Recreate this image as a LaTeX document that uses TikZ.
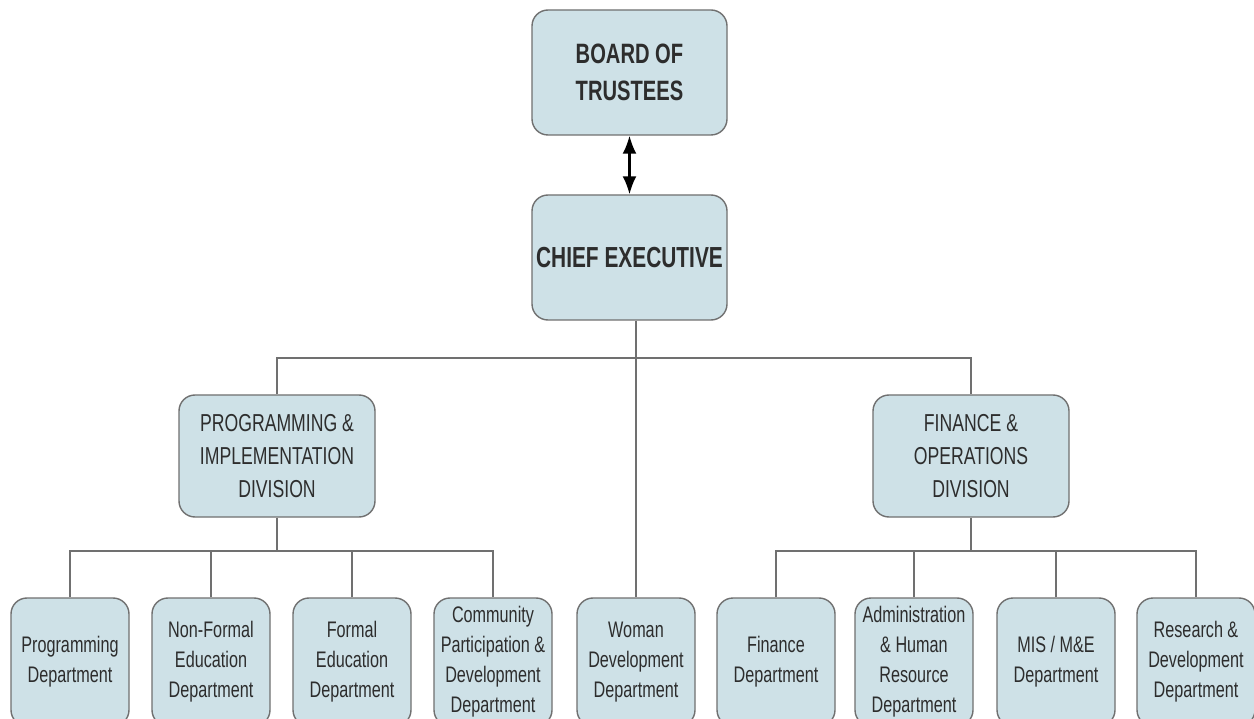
\documentclass[tikz,border=0pt]{standalone}
\usepackage{fontspec}
\setmainfont{Liberation Sans}[FakeStretch=0.72]
\usetikzlibrary{arrows.meta}
\definecolor{boxfill}{RGB}{206,225,231}
\definecolor{boxline}{RGB}{112,112,112}
\definecolor{txt}{RGB}{45,45,45}
\begin{document}
\begin{tikzpicture}[x=1pt,y=-1pt,
  box/.style={draw=boxline, line width=1.4pt, fill=boxfill, rounded corners=16pt, align=center, text=txt, inner sep=0pt},
  topbox/.style={box, minimum width=195pt, minimum height=125pt, font=\fontsize{28}{37}\selectfont\bfseries},
  divbox/.style={box, minimum width=196pt, minimum height=122pt, font=\fontsize{24.5}{33}\selectfont},
  deptbox/.style={box, minimum width=118pt, minimum height=128pt, font=\fontsize{22.5}{30}\selectfont},
  link/.style={draw=boxline, line width=1.4pt}]
\useasboundingbox (0,0) rectangle (1254,719);
\clip (0,0) rectangle (1254,719);
\fill[white] (0,0) rectangle (1254,719);

\node[topbox] (bot) at (629.5,72.5) {BOARD OF\\TRUSTEES};
\node[topbox, font=\fontsize{29}{37}\selectfont\bfseries] (ce) at (629.5,257.5) {CHIEF EXECUTIVE};

\node[divbox] (pid) at (277,456) {PROGRAMMING \&\\IMPLEMENTATION\\DIVISION};
\node[divbox] (fod) at (971,456) {FINANCE \&\\OPERATIONS\\DIVISION};

\node[deptbox] (d1) at (70,662) {Programming\\Department};
\node[deptbox] (d2) at (211,662) {Non-Formal\\Education\\Department};
\node[deptbox] (d3) at (352,662) {Formal\\Education\\Department};
\node[deptbox] (d4) at (493,662) {Community\\Participation \&\\Development\\Department};
\node[deptbox] (wom) at (636,662) {Woman\\Development\\Department};
\node[deptbox] (d6) at (776,662) {Finance\\Department};
\node[deptbox] (d7) at (914,662) {Administration\\\& Human\\Resource\\Department};
\node[deptbox] (d8) at (1056,662) {MIS / M\&E\\Department};
\node[deptbox] (d9) at (1196,662) {Research \&\\Development\\Department};

\draw[line width=2.2pt, {Latex[length=18pt,width=14pt]}-{Latex[length=18pt,width=14pt]}] (bot.south) -- (ce.north);

\coordinate (hbar) at (629,358);
\coordinate (lbus) at (277,551);
\coordinate (rbus) at (971,551);

\draw[link] (ce.south -| wom.north) -- (wom.north);
\draw[link] (pid.north) |- (hbar -| fod.north) -- (fod.north);

\draw[link] (pid.south) -- (lbus);
\draw[link] (d1.north) |- (lbus -| d4.north) -- (d4.north);
\draw[link] (d2.north) -- (d2.north |- lbus);
\draw[link] (d3.north) -- (d3.north |- lbus);

\draw[link] (fod.south) -- (rbus);
\draw[link] (d6.north) |- (rbus -| d9.north) -- (d9.north);
\draw[link] (d7.north) -- (d7.north |- rbus);
\draw[link] (d8.north) -- (d8.north |- rbus);
\end{tikzpicture}
\end{document}
